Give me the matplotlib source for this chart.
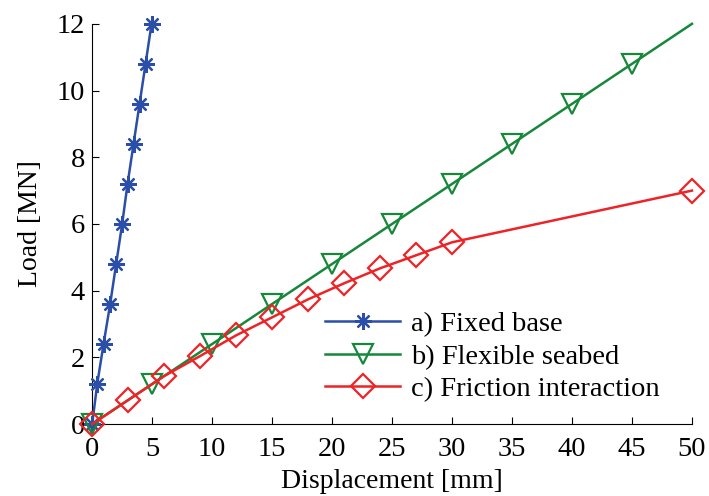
import matplotlib
matplotlib.use('Agg')
import matplotlib.pyplot as plt

# ------------------ Data ------------------
fixed_x = [0, 0.42, 0.95, 1.5, 2.0, 2.5, 2.95, 3.45, 3.95, 4.45, 4.95]
fixed_y = [0, 1.2, 2.4, 3.6, 4.8, 6.0, 7.2, 8.4, 9.6, 10.8, 12.0]

flex_x = [0, 5, 10, 15, 20, 25, 30, 35, 40, 45, 50]
flex_y = [0, 1.2, 2.4, 3.6, 4.8, 6.0, 7.2, 8.4, 9.6, 10.8, 12.0]

fric_x = [0, 3, 6, 9, 12, 15, 18, 21, 24, 27, 30, 50]
fric_y = [0, 0.72, 1.44, 2.04, 2.66, 3.2, 3.74, 4.22, 4.67, 5.06, 5.45, 7.0]

labels = ['a) Fixed base', 'b) Flexible seabed', 'c) Friction interaction']

# ------------------ Style ------------------
plt.rcParams['font.family'] = ['Liberation Serif', 'DejaVu Serif']

c_blue = '#2B4FA8'
c_green = '#17873A'
c_red = '#EE2326'

fig = plt.figure(figsize=(7.09, 4.96), dpi=100)
ax = fig.add_axes([0.130, 0.145, 0.846, 0.807])

ax.plot(fixed_x, fixed_y, color=c_blue, lw=1.8, marker=(8, 2, 0), ms=12,
        mew=1.6, label=labels[0], clip_on=False, zorder=3)
ax.plot(flex_x, flex_y, color=c_green, lw=1.8, marker='v', ms=15, mfc='none',
        mew=1.6, markevery=list(range(10)), label=labels[1], clip_on=False, zorder=3)
ax.plot(fric_x, fric_y, color=c_red, lw=1.8, marker='D', ms=12, mfc='none',
        mew=1.6, label=labels[2], clip_on=False, zorder=3)

ax.set_xlim(0, 50)
ax.set_ylim(0, 12)
ax.set_xticks(range(0, 51, 5))
ax.set_yticks(range(0, 13, 2))
ax.spines['top'].set_visible(False)
ax.spines['right'].set_visible(False)
ax.tick_params(direction='in', length=5, labelsize=20.5)
ax.tick_params(axis='x', pad=9)
ax.tick_params(axis='y', pad=5)
ax.set_xlabel('Displacement [mm]', fontsize=20, labelpad=5)
ax.set_ylabel('Load [MN]', fontsize=20, labelpad=10)

ax.legend(loc='upper left', bbox_to_anchor=(0.37, 0.31), frameon=False,
          fontsize=20.5, handlelength=2.6, labelspacing=0.23, handletextpad=0.4,
          borderaxespad=0)

fig.savefig('out.png', dpi=100)
